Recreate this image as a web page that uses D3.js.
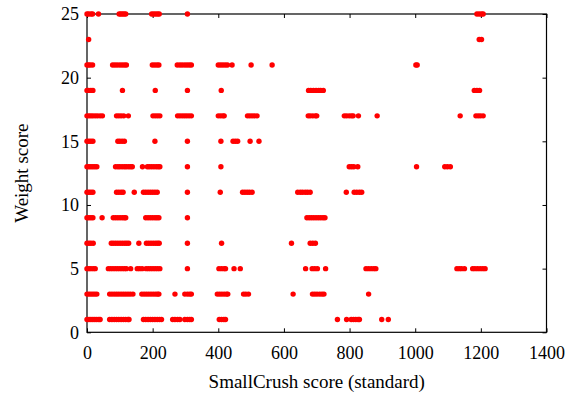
<!DOCTYPE html>
<html><head><meta charset="utf-8">
<script src="https://cdn.jsdelivr.net/npm/d3@7"></script>
<style>body{margin:0;background:#fff}svg{display:block}svg text{font-family:"Liberation Serif","DejaVu Serif",serif !important;font-size:18px;fill:#000}</style>
</head><body><svg id="c" width="571" height="393"></svg>
<script>
const xTicks = [0,200,400,600,800,1000,1200,1400];
const yTicks = [0,5,10,15,20,25];
const w25 = [0,5,12,17,35,98,103,108,113,118,197,203,209,215,220,306,1188,1195,1202,1207];
const w23 = [5,1195,1202];
const w21 = [0,5,10,17,78,85,92,100,107,114,120,199,206,213,219,275,283,290,298,305,312,318,400,407,414,421,428,442,500,564,1002,1006];
const w19 = [0,5,12,18,108,208,306,409,675,682,690,698,706,712,720,1180,1188,1196];
const w17 = [0,6,12,18,25,32,40,47,90,97,104,112,126,201,208,215,222,276,283,290,297,304,311,318,400,407,414,418,489,496,503,510,518,674,680,688,696,700,784,791,799,806,811,827,884,1137,1185,1192,1199,1207];
const w15 = [0,6,12,18,94,100,107,114,207,306,408,445,452,459,497,524];
const w13 = [0,6,12,18,24,30,87,94,100,107,114,120,127,133,138,169,184,190,197,204,211,217,222,306,408,799,806,813,825,1004,1090,1098,1107];
const w11 = [0,6,12,18,90,97,104,110,144,172,179,186,193,200,207,214,306,406,474,481,488,495,503,642,650,657,665,672,680,790,814,822,830,837];
const w9 = [0,6,12,18,46,80,87,94,101,108,114,118,179,186,193,200,207,213,219,306,670,677,684,691,698,705,712,719,725];
const w7 = [0,6,12,19,74,80,87,94,101,108,115,121,127,158,181,188,195,202,209,215,220,306,410,623,680,688,696];
const w5 = [0,6,12,19,25,65,72,79,86,93,100,107,114,120,133,153,160,168,180,187,194,201,208,215,222,306,402,410,418,422,448,467,666,686,694,702,727,850,858,866,874,880,1127,1134,1141,1150,1175,1182,1190,1198,1206,1213];
const w3 = [0,6,12,18,24,30,69,76,83,90,97,104,111,118,125,132,140,167,174,181,188,195,202,209,215,219,268,298,306,313,318,397,404,411,418,425,429,477,484,492,628,687,694,701,709,716,722,858];
const w1 = [0,6,12,18,24,30,36,40,69,76,83,90,97,104,111,118,125,128,172,179,186,193,200,207,214,221,227,261,268,276,283,298,306,313,318,403,410,417,422,763,791,805,812,819,826,830,898,918];
const rows = [[1,w1],[3,w3],[5,w5],[7,w7],[9,w9],[11,w11],[13,w13],[15,w15],[17,w17],[19,w19],[21,w21],[23,w23],[25,w25]];
const points = rows.flatMap(([w, xs]) => xs.map(x => ({x, y: w})));

const L = 87, R = 546.5, T = 14, B = 332.3;
const svg = d3.select("#c");
const x = d3.scaleLinear().domain([0,1400]).range([L,R]);
const y = d3.scaleLinear().domain([0,25]).range([B,T]);
const fmt = d3.format("d");

const ax = svg.append("g");
ax.append("g").attr("transform",`translate(0,${B})`)
  .call(d3.axisBottom(x).tickValues(xTicks).tickFormat(fmt).tickSizeInner(-4).tickSizeOuter(0).tickPadding(14))
  .call(g=>g.select(".domain").remove());
ax.append("g").attr("transform",`translate(0,${T})`)
  .call(d3.axisTop(x).tickValues(xTicks).tickSizeInner(-4).tickSizeOuter(0).tickFormat(""))
  .call(g=>g.select(".domain").remove());
ax.append("g").attr("transform",`translate(${L},0)`)
  .call(d3.axisLeft(y).tickValues(yTicks).tickFormat(fmt).tickSizeInner(-4).tickSizeOuter(0).tickPadding(8))
  .call(g=>g.select(".domain").remove());
ax.append("g").attr("transform",`translate(${R},0)`)
  .call(d3.axisRight(y).tickValues(yTicks).tickSizeInner(-4).tickSizeOuter(0).tickFormat(""))
  .call(g=>g.select(".domain").remove());
ax.selectAll("g").attr("font-family",'"Liberation Serif",serif').attr("font-size",18);
ax.selectAll(".tick line").attr("stroke","#000");
svg.append("rect").attr("x",L).attr("y",T).attr("width",R-L).attr("height",B-T)
  .attr("fill","none").attr("stroke","#000").attr("stroke-width",1.2);

svg.append("text").attr("x",(L+R)/2).attr("y",388).attr("text-anchor","middle").style("font-size","19px").text("SmallCrush score (standard)");
svg.append("text").attr("transform",`translate(28,${(T+B)/2}) rotate(-90)`).attr("text-anchor","middle").style("font-size","19px").text("Weight score");

svg.append("g").selectAll("circle").data(points).join("circle")
  .attr("cx",d=>x(d.x)).attr("cy",d=>y(d.y)).attr("r",2.7).attr("fill","#ff0000");
</script></body></html>
